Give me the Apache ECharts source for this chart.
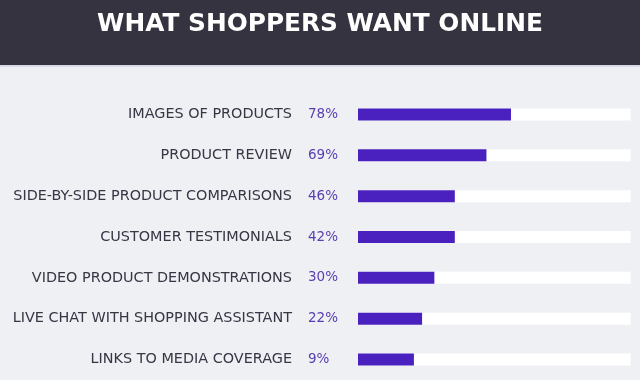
<!DOCTYPE html>
<html>
<head>
<meta charset="utf-8">
<script src="https://cdn.jsdelivr.net/npm/echarts@6/dist/echarts.min.js"></script>
<style>
html,body{margin:0;padding:0;background:#eef0f4;}
#c{width:640px;height:380px;}
</style>
</head>
<body>
<div id="c"></div>
<script>
var titleText = 'WHAT SHOPPERS WANT ONLINE';
var categories = [
  'IMAGES OF PRODUCTS',
  'PRODUCT REVIEW',
  'SIDE-BY-SIDE PRODUCT COMPARISONS',
  'CUSTOMER TESTIMONIALS',
  'VIDEO PRODUCT DEMONSTRATIONS',
  'LIVE CHAT WITH SHOPPING ASSISTANT',
  'LINKS TO MEDIA COVERAGE'
];
// percentages printed next to each bar
var shares = [78, 69, 46, 42, 30, 22, 9];
// drawn bar lengths (share of the white track)
var barLengths = [56.1, 47.1, 35.5, 35.5, 28.0, 23.5, 20.5];
var trackMax = 100;
var trackValues = categories.map(function(){ return trackMax; });

var chart = echarts.init(document.getElementById('c'), null, {renderer:'canvas'});
chart.setOption({
  backgroundColor: '#eef0f4',
  animation: false,
  graphic: [
    {type:'rect', left:0, top:0, shape:{width:640, height:65}, style:{fill:'#34333f'}, z:0},
    {type:'rect', left:0, top:65, shape:{width:640, height:2}, style:{fill:'#d9d9e6'}, z:0}
  ],
  title: {
    text: titleText,
    left: 'center',
    top: 7,
    textStyle: {color:'#ffffff', fontFamily:'DejaVu Sans', fontWeight:'bold', fontSize:24.8}
  },
  grid: {left:358, right:9.3, top:94, height:288, containLabel:false},
  xAxis: {type:'value', min:0, max:trackMax, show:false},
  yAxis: {
    type:'category', data:categories, inverse:true,
    axisLine:{show:false}, axisTick:{show:false}, splitLine:{show:false},
    axisLabel:{margin:66, color:'#363644', fontFamily:'DejaVu Sans', fontSize:14.4, fontWeight:'normal'}
  },
  series: [
    {
      type:'bar', data:trackValues, barWidth:12, barGap:'-100%', silent:true,
      itemStyle:{color:'#ffffff'},
      label:{show:true, position:[-50, 6], align:'left', verticalAlign:'middle',
        color:'#5a3db0', fontFamily:'DejaVu Sans', fontSize:13.5,
        formatter:function(p){ return shares[p.dataIndex] + '%'; }},
      z:2
    },
    {
      type:'bar', data:barLengths, barWidth:12, barGap:'-100%', silent:true,
      itemStyle:{color:'#4a20bf'},
      z:3
    }
  ]
});
</script>
</body>
</html>
